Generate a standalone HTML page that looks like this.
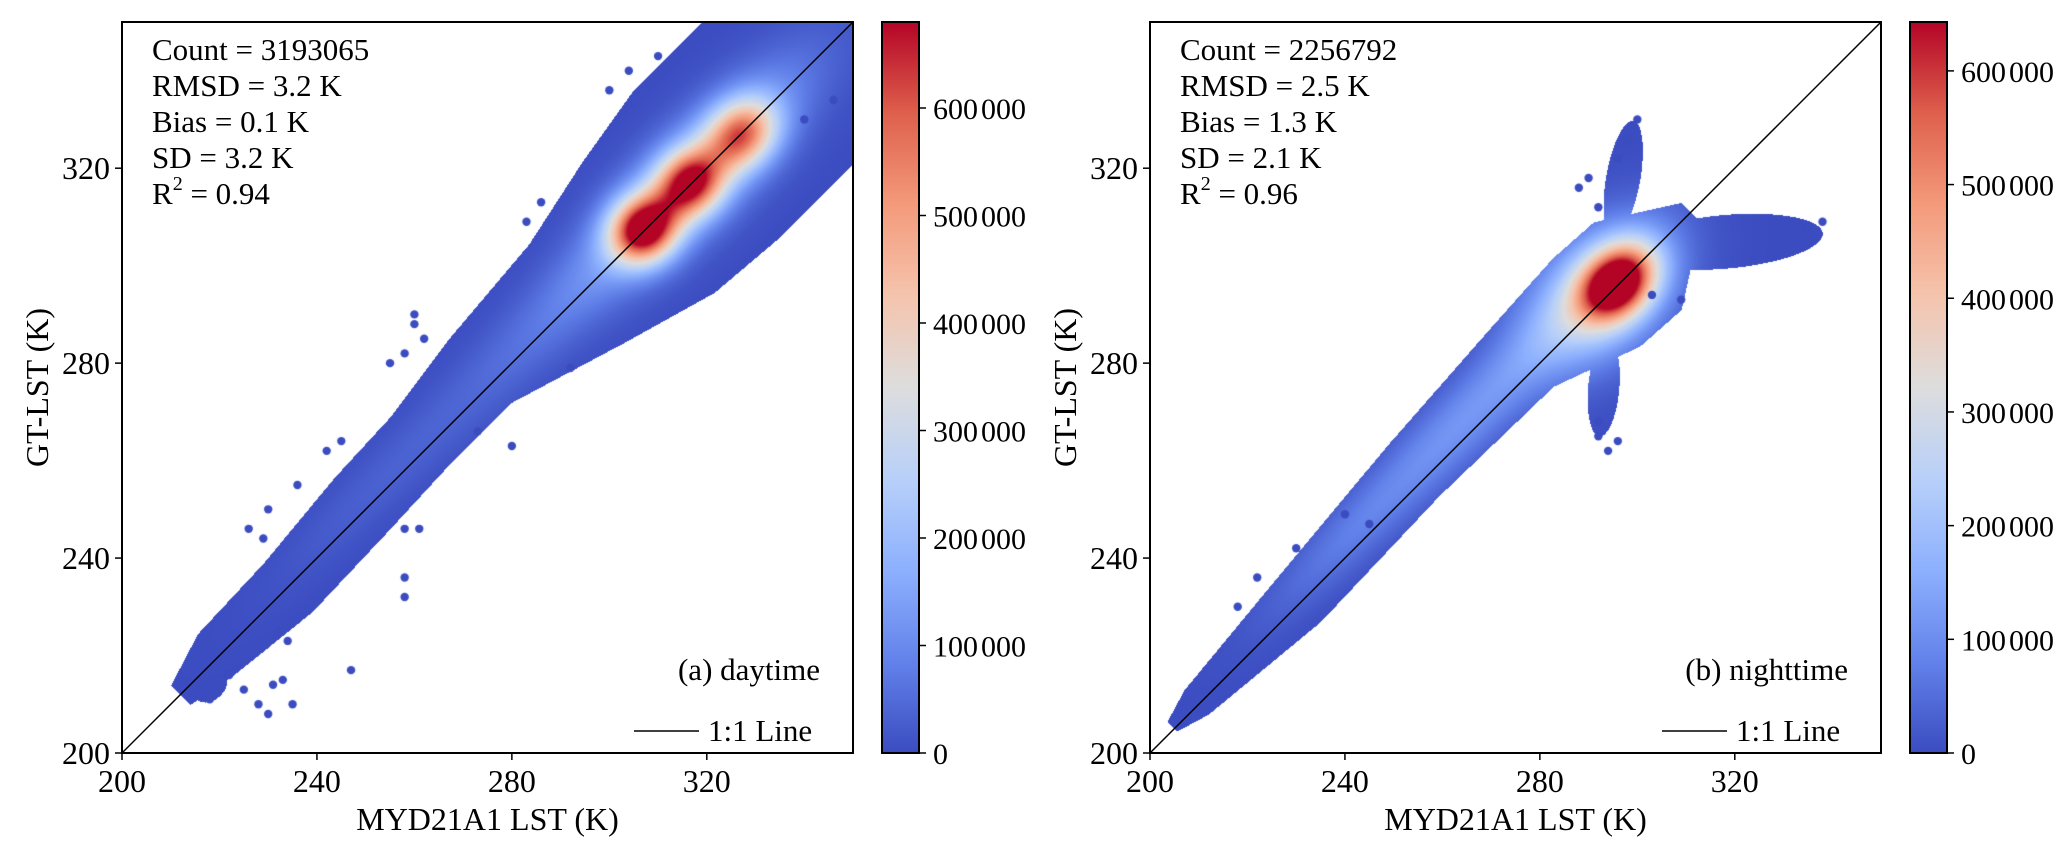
<!DOCTYPE html>
<html><head><meta charset="utf-8">
<style>
html,body{margin:0;padding:0;background:#fff;}
body{width:2067px;height:856px;position:relative;overflow:hidden;font-family:"Liberation Serif","DejaVu Serif",serif;}
svg text{font-family:"Liberation Serif","DejaVu Serif",serif;fill:#000;}
canvas{position:absolute;}
</style></head><body>
<canvas id="cA" width="731" height="731" style="left:122px;top:22px"></canvas>
<canvas id="cB" width="731" height="731" style="left:1150px;top:22px"></canvas>
<svg id="svg" width="2067" height="856" style="position:absolute;left:0;top:0">
<defs>
<linearGradient id="cw" x1="0" y1="1" x2="0" y2="0">
<stop offset="0" stop-color="rgb(59,76,192)"/><stop offset="0.125" stop-color="rgb(98,130,234)"/>
<stop offset="0.25" stop-color="rgb(141,176,254)"/><stop offset="0.375" stop-color="rgb(184,208,249)"/>
<stop offset="0.5" stop-color="rgb(221,221,221)"/><stop offset="0.625" stop-color="rgb(245,196,173)"/>
<stop offset="0.75" stop-color="rgb(244,154,123)"/><stop offset="0.875" stop-color="rgb(222,96,76)"/>
<stop offset="1" stop-color="rgb(180,4,38)"/></linearGradient>
</defs>
<g id="gA"></g>
<g id="gB"></g>
</svg>
<script>
// ---- data ----
const axisTicks = [200, 240, 280, 320];
const axisMin = 200, axisMax = 350;
const cbTicks = [0, 100000, 200000, 300000, 400000, 500000, 600000];
const cbTickHead = ["0","100","200","300","400","500","600"];
const cbMaxA = 680000, cbMaxB = 643000;
const statsA = ["Count = 3193065","RMSD = 3.2 K","Bias = 0.1 K","SD = 3.2 K"];
const r2A = "0.94";
const statsB = ["Count = 2256792","RMSD = 2.5 K","Bias = 1.3 K","SD = 2.1 K"];
const r2B = "0.96";
// band profile along the diagonal: t=(x+y)/2, centre offset d=y-x, half-width (K)
const bandTA  = [212,220,234,250,262,276,294,308,320,335,360];
const bandCA  = [0,1,0,2,3,5,1,0,1,1,0];
const bandHWA = [4,8,10,11,11,13,20,27,30,30,30];
// extra envelope ellipses: cx, cy, semi-along, semi-perp, angle (deg)
const envCxA = [218];
const envCyA = [214];
const envAA  = [4];
const envBA  = [3];
const envAngA= [45];
// density cores: cx, cy, sigma-along, sigma-perp, peak count
const coreCxA = [307,316.5,327,318,292,250];
const coreCyA = [307.5,317,327,319,294,253];
const coreSuA = [5,5,5.5,20,28,20];
const coreSvA = [4.5,4.5,4.5,6.5,5,4];
const coreAmpA= [640000,520000,440000,200000,60000,25000];
const outXA = [216,218,220,222,225,228,230,231,233,235,232,234,247,258,258,258,261,260,262,258,255,260,273,280,292,340,346,236,230,226,229,300,304,310,286,283,245,242];
const outYA = [212,211,215,216,213,210,208,214,215,210,225,223,217,232,236,246,246,288,285,282,280,290,266,263,279,330,334,255,250,246,244,336,340,343,313,309,264,262];

const bandTB  = [205,210,231,256,279,292,300,311];
const bandCB  = [1,1,1,4,5,1,0,0];
const bandHWB = [2,5,9,10.5,12.5,18,18,4];
const envCxB = [318,297,293];
const envCyB = [305,318,275];
const envAB  = [20,12,10];
const envBB  = [5.5,3.5,3.2];
const envAngB= [5,80,85];
const coreCxB = [295.8,292,268,240];
const coreCyB = [296.5,294,272,244];
const coreSuB = [6,12,22,18];
const coreSvB = [4.5,8,5,4];
const coreAmpB= [620000,260000,110000,55000];
const outXB = [300,298,296,335,338,292,294,292,296,240,245,309,303,290,288,292,222,218,230];
const outYB = [330,326,322,308,309,265,262,268,264,249,247,293,294,318,316,312,236,230,242];

// ---- helpers ----
const PX = 731/150;
const cmap = [[59,76,192],[98,130,234],[141,176,254],[184,208,249],[221,221,221],[245,196,173],[244,154,123],[222,96,76],[180,4,38]];
function col(t){t=Math.max(0,Math.min(1,t));const s=t*8,i=Math.min(7,Math.floor(s)),f=s-i;const a=cmap[i],b=cmap[i+1];
return [a[0]+(b[0]-a[0])*f,a[1]+(b[1]-a[1])*f,a[2]+(b[2]-a[2])*f];}
function lerpArr(ts,vs,t){if(t<=ts[0])return vs[0];for(let i=1;i<ts.length;i++){if(t<=ts[i]){const f=(t-ts[i-1])/(ts[i]-ts[i-1]);return vs[i-1]+(vs[i]-vs[i-1])*f;}}return vs[vs.length-1];}
function drawDensity(id,bt,bc,bh,ecx,ecy,ea,eb,eang,ccx,ccy,csu,csv,camp,ox,oy,vmax){
  const c=document.getElementById(id),ctx=c.getContext('2d'),W=731;
  const img=ctx.createImageData(W,W),d=img.data;
  const ec=eang.map(a=>Math.cos(a*Math.PI/180)),es=eang.map(a=>Math.sin(a*Math.PI/180));
  const r=Math.SQRT1_2,t0=bt[0],t1=bt[bt.length-1];
  for(let py=0;py<W;py++){const Y=axisMax-py/PX;
    for(let px=0;px<W;px++){const X=axisMin+px/PX;
      const t=(X+Y)/2,dd=Y-X;
      let inside=false;
      if(t>=t0&&t<=t1){const cc=lerpArr(bt,bc,t),hw=lerpArr(bt,bh,t);if(Math.abs(dd-cc)<=hw)inside=true;}
      if(!inside)for(let k=0;k<ecx.length;k++){const dx=X-ecx[k],dy=Y-ecy[k];
        const u=dx*ec[k]+dy*es[k],v=-dx*es[k]+dy*ec[k];
        if((u*u)/(ea[k]*ea[k])+(v*v)/(eb[k]*eb[k])<=1){inside=true;break;}}
      const o=(py*W+px)*4;
      if(!inside){d[o+3]=0;continue;}
      let val=0;
      for(let k=0;k<ccx.length;k++){const dx=X-ccx[k],dy=Y-ccy[k];
        const u=(dx+dy)*r,v=(dy-dx)*r;
        val+=camp[k]*Math.exp(-0.5*(u*u/(csu[k]*csu[k])+v*v/(csv[k]*csv[k])));}
      const cc=col(val/vmax);d[o]=cc[0];d[o+1]=cc[1];d[o+2]=cc[2];d[o+3]=255;}}
  ctx.putImageData(img,0,0);
  ctx.fillStyle='rgb(59,76,192)';
  for(let k=0;k<ox.length;k++){ctx.beginPath();ctx.arc((ox[k]-axisMin)*PX,(axisMax-oy[k])*PX,4.2,0,7);ctx.fill();}
}
const NS='http://www.w3.org/2000/svg';
function mk(p,tag,at,txt){const e=document.createElementNS(NS,tag);for(const k in at)e.setAttribute(k,at[k]);if(txt!==undefined)e.textContent=txt;p.appendChild(e);return e;}
function panel(gid,L,stats,r2,label,cbL,cbMax){
  const g=document.getElementById(gid),T=22,S=731;
  const sx=v=>L+(v-axisMin)*PX, sy=v=>T+S-(v-axisMin)*PX;
  let e=mk(g,'line',{x1:sx(axisMin),y1:sy(axisMin),x2:sx(axisMax),y2:sy(axisMax),stroke:'#000','stroke-width':1.5});
  
  
  e=mk(g,'rect',{x:L,y:T,width:S,height:S,fill:'none',stroke:'#000','stroke-width':2});
  
  
  axisTicks.forEach(t=>{
    e=mk(g,'line',{x1:sx(t),y1:T+S,x2:sx(t),y2:T+S+7,stroke:'#000','stroke-width':1.5});
    
    
    e=mk(g,'text',{x:sx(t),y:792,'font-size':32,'text-anchor':'middle'},String(t));
    
    
    e=mk(g,'line',{x1:L-7,y1:sy(t),x2:L,y2:sy(t),stroke:'#000','stroke-width':1.5});
    
    
    e=mk(g,'text',{x:L-12,y:sy(t)+11,'font-size':32,'text-anchor':'end'},String(t));
    
    
  });
  e=mk(g,'text',{x:L+S/2,y:830,'font-size':32,'text-anchor':'middle'},'MYD21A1 LST (K)');
  
  
  e=mk(g,'text',{x:0,y:0,'font-size':32,'text-anchor':'middle',transform:`translate(${L-74},${T+S/2}) rotate(-90)`},'GT-LST (K)');
  
  
  stats.forEach((s,i)=>{e=mk(g,'text',{x:L+30,y:60+i*36,'font-size':31},s);
    
    });
  e=mk(g,'text',{x:L+30,y:204,'font-size':31});
  
  
  mk(e,'tspan',{},'R');mk(e,'tspan',{dy:-14,'font-size':20},'2');mk(e,'tspan',{dy:14},' = '+r2);
  e=mk(g,'text',{x:L+S-33,y:680,'font-size':31,'text-anchor':'end'},label);
  
  
  e=mk(g,'line',{x1:L+512,y1:731,x2:L+577,y2:731,stroke:'#000','stroke-width':1.5});
  
  
  e=mk(g,'text',{x:L+586,y:741,'font-size':31},'1:1 Line');
  
  
  const cw=37;
  e=mk(g,'rect',{x:cbL,y:T,width:cw,height:S,fill:'url(#cw)',stroke:'#000','stroke-width':2});
  
  
  cbTicks.forEach((t,i)=>{const y=T+S-t/cbMax*S;
    e=mk(g,'line',{x1:cbL+cw,y1:y,x2:cbL+cw+7,y2:y,stroke:'#000','stroke-width':1.5});
    
    
    e=mk(g,'text',{x:cbL+cw+14,y:y+11,'font-size':30},cbTickHead[i]);
    
    
    if(t>0)mk(e,'tspan',{dx:3},'000');});
}
drawDensity('cA',bandTA,bandCA,bandHWA,envCxA,envCyA,envAA,envBA,envAngA,coreCxA,coreCyA,coreSuA,coreSvA,coreAmpA,outXA,outYA,cbMaxA);
drawDensity('cB',bandTB,bandCB,bandHWB,envCxB,envCyB,envAB,envBB,envAngB,coreCxB,coreCyB,coreSuB,coreSvB,coreAmpB,outXB,outYB,cbMaxB);
panel('gA',122,statsA,r2A,'(a) daytime',882,cbMaxA);
panel('gB',1150,statsB,r2B,'(b) nighttime',1910,cbMaxB);
</script>
</body></html>
